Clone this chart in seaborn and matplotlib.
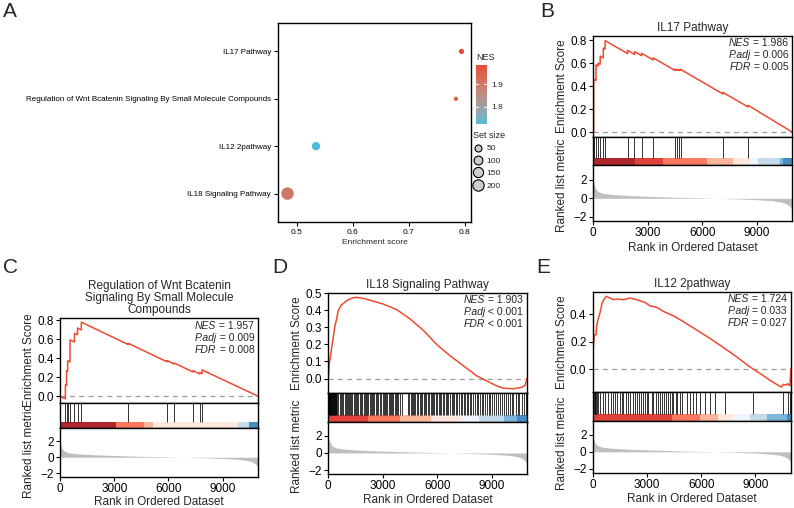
import numpy as np
import pandas as pd
import matplotlib
matplotlib.use("Agg")
import matplotlib.pyplot as plt
import seaborn as sns
from matplotlib.colors import ListedColormap, Normalize, to_rgb
from matplotlib.cm import ScalarMappable
from matplotlib.lines import Line2D
from matplotlib.ticker import FormatStrFormatter

# ------------------------------------------------------------------ data
pathways = ["IL17 Pathway",
            "Regulation of Wnt Bcatenin Signaling By Small Molecule Compounds",
            "IL12 2pathway",
            "IL18 Signaling Pathway"]
enrichment = [0.794, 0.784, 0.534, 0.483]
nes_values = [1.986, 1.957, 1.724, 1.903]
set_sizes = [16, 13, 62, 216]
size_breaks = [50, 100, 150, 200]
nes_breaks = [1.8, 1.9]
dot_x_ticks = [0.5, 0.6, 0.7, 0.8]

n_ranked = 10970
rank_ticks = [0, 3000, 6000, 9000]
metric_ticks = [-2, 0, 2]
metric_rank = [0, 40, 120, 250, 500, 1000, 2000, 3000, 4000, 5000, 6000, 7000,
               8000, 9000, 9800, 10300, 10600, 10800, 10900, 10970]
metric_value = [2.0, 1.6, 1.1, 0.75, 0.55, 0.42, 0.30, 0.22, 0.15, 0.09, 0.04, -0.01,
                -0.07, -0.15, -0.25, -0.38, -0.55, -0.80, -1.05, -1.35]
stat_names = ["NES", "P.adj", "FDR"]

# panel B : IL17 Pathway
b_title = "IL17 Pathway"
b_stats = ["= 1.986", "= 0.006", "= 0.005"]
b_es_rank = [0, 20, 20, 150, 150, 275, 275, 380, 380, 550, 550, 650, 650, 1890, 1890,
             2270, 2270, 2660, 2660, 3300, 3300, 4500, 4500, 4630, 4630, 4740, 4740,
             4810, 4810, 7140, 7140, 8530, 8530, 10970]
b_es_score = [0, 0, 0.46, 0.448, 0.585, 0.574, 0.60, 0.59, 0.66, 0.644, 0.73, 0.721,
              0.795, 0.682, 0.71, 0.675, 0.70, 0.664, 0.685, 0.627, 0.645, 0.536, 0.548,
              0.536, 0.545, 0.535, 0.542, 0.536, 0.545, 0.332, 0.345, 0.219, 0.233, 0.0]
b_hits = [20, 150, 275, 380, 550, 650, 1890, 2270, 2660, 3300, 4500, 4630, 4740, 4810,
          7140, 8530]
b_band_edges = [0, 2300, 3860, 6280, 7710, 8630, 9090, 10300, 10470, 10970]
b_band_colors = ["#A50F15", "#DE2D26", "#FB6A4A", "#FCAE91", "#FEE5D9", "#EFF3FF",
                 "#BDD7E7", "#6BAED6", "#3182BD"]
b_es_ticks = [0.0, 0.2, 0.4, 0.6, 0.8]

# panel C : Wnt
c_title = "Regulation of Wnt Bcatenin\nSignaling By Small Molecule\nCompounds"
c_stats = ["= 1.957", "= 0.009", "= 0.008"]
c_es_rank = [0, 300, 300, 360, 360, 424, 424, 553, 553, 800, 800, 970, 970, 1180, 1180,
             3782, 3782, 5903, 5903, 6309, 6309, 7360, 7360, 7730, 7730, 7860, 7860, 10970]
c_es_score = [0, -0.027, 0.12, 0.115, 0.27, 0.264, 0.375, 0.363, 0.595, 0.573, 0.665,
              0.65, 0.72, 0.70, 0.782, 0.545, 0.558, 0.365, 0.378, 0.341, 0.352, 0.256,
              0.27, 0.236, 0.252, 0.24, 0.278, 0.0]
c_hits = [300, 360, 424, 553, 800, 970, 1180, 3782, 5903, 6309, 7360, 7730, 7860]
c_band_edges = [0, 3100, 4650, 5120, 9870, 10450, 10970]
c_band_colors = ["#A50F15", "#FB6A4A", "#FCAE91", "#FEE5D9", "#BDD7E7", "#3182BD"]
c_es_ticks = [0.0, 0.2, 0.4, 0.6, 0.8]

# panel D : IL18
d_title = "IL18 Signaling Pathway"
d_stats = ["= 1.903", "< 0.001", "< 0.001"]
d_es_rank = [0, 60, 184, 300, 368, 460, 551, 700, 827, 1000, 1195, 1380, 1562, 1930,
             2297, 3032, 3768, 4503, 5238, 5973, 6709, 7444, 8179, 8730, 9282, 9650,
             10201, 10660, 10844, 10970]
d_es_score = [0, 0.09, 0.18, 0.26, 0.31, 0.35, 0.40, 0.43, 0.44, 0.456, 0.467, 0.474,
              0.477, 0.470, 0.460, 0.437, 0.405, 0.350, 0.283, 0.200, 0.134, 0.075,
              0.016, -0.014, -0.043, -0.057, -0.060, -0.052, -0.040, 0.006]
d_hits = [10, 30, 55, 70, 95, 120, 140, 165, 190, 210, 240, 265, 290, 320, 345, 370,
          400, 430, 455, 560, 640, 700, 760, 830, 900, 960, 1010, 1080, 1150, 1200,
          1250, 1330, 1400, 1470, 1530, 1600, 1660, 1740, 1800, 1870, 1950, 2010, 2080,
          2150, 2200, 2280, 2330, 2400, 2460, 2540, 2610, 2680, 2760, 2830, 2920, 3000,
          3050, 3120, 3180, 3260, 3330, 3380, 3440, 3520, 3580, 3650, 3720, 3780, 3850,
          3950, 4060, 4400, 4470, 4540, 4600, 4660, 4720, 4800, 4880, 4950, 5030, 5100,
          5180, 5260, 5330, 5400, 5480, 5560, 5640, 5700, 5780, 5850, 5930, 6000, 6080,
          6150, 6240, 6320, 6400, 6480, 6560, 6620, 6700, 6800, 6870, 6950, 7030, 7120,
          7200, 7300, 7380, 7460, 7560, 7640, 7720, 7800, 7880, 7980, 8080, 8180, 8260,
          8360, 8450, 8550, 8650, 8750, 8840, 8940, 9050, 9150, 9260, 9360, 9460, 9570,
          9680, 9780, 9880, 9990, 10100, 10200, 10320, 10430, 10540, 10660, 10780,
          10880, 10950]
d_band_edges = [0, 2206, 3952, 5650, 7300, 8300, 9700, 10400, 10970]
d_band_colors = ["#DE2D26", "#FB6A4A", "#FCAE91", "#FEE5D9", "#EFF3FF", "#BDD7E7",
                 "#6BAED6", "#3182BD"]
d_es_ticks = [0.0, 0.1, 0.2, 0.3, 0.4, 0.5]

# panel E : IL12
e_title = "IL12 2pathway"
e_stats = ["= 1.724", "= 0.033", "= 0.027"]
e_es_rank = [0, 37, 92, 184, 221, 313, 405, 498, 590, 737, 958, 1143, 1364, 1696, 2064,
             2433, 2894, 3170, 3539, 3907, 4460, 5013, 5750, 6488, 7225, 7962, 8699,
             9252, 9805, 10266, 10450, 10542, 10690, 10782, 10910, 10966]
e_es_score = [0, 0.16, 0.25, 0.25, 0.32, 0.37, 0.41, 0.47, 0.50, 0.53, 0.517, 0.505,
              0.51, 0.505, 0.517, 0.505, 0.485, 0.46, 0.45, 0.42, 0.388, 0.346, 0.285,
              0.224, 0.158, 0.09, 0.017, -0.03, -0.08, -0.117, -0.13, -0.11, -0.115,
              -0.105, -0.12, 0.005]
e_hits = [20, 60, 100, 140, 180, 220, 313, 405, 590, 682, 866, 995, 1143, 1235, 1327,
          1511, 1603, 1696, 1843, 1972, 2064, 2212, 2341, 2433, 2580, 2654, 2801, 2894,
          2986, 3078, 3262, 3354, 3502, 3631, 3723, 3815, 3944, 4055, 4184, 4276, 4368,
          4460, 4608, 4681, 4829, 4921, 5197, 5382, 5566, 5713, 5934, 6211, 6488, 6764,
          7317, 8883, 10505, 10818, 10910]
e_band_edges = [0, 4368, 5934, 6948, 7777, 8699, 9620, 10726, 10970]
e_band_colors = ["#DE2D26", "#FB6A4A", "#FCAE91", "#FEE5D9", "#EFF3FF", "#BDD7E7",
                 "#6BAED6", "#3182BD"]
e_es_ticks = [0.0, 0.2, 0.4]

# ------------------------------------------------------------------ style
sns.set_style("white")
plt.rcParams["font.family"] = ["Liberation Sans", "DejaVu Sans"]
plt.rcParams["axes.linewidth"] = 1.0

W, H = 794, 508
fig = plt.figure(figsize=(W / 100, H / 100), dpi=100)
fig.patch.set_facecolor("white")


def box(x0, y0, x1, y1):
    return [x0 / W, 1 - y1 / H, (x1 - x0) / W, (y1 - y0) / H]


RED = "#EE4A30"
TICK_FS = 8.5
LAB_FS = 8.5


def style_ticks(ax):
    ax.tick_params(direction="out", length=3, width=0.8, colors="black",
                   labelsize=TICK_FS, pad=1.5, left=True, bottom=True)
    for s in ax.spines.values():
        s.set_color("black")
        s.set_linewidth(1.0)


def gsea_panel(geom, title, es_rank, es_score, hits, band_edges, band_colors, stats,
               es_ticks, metric_lab_y, xlab_pad=2):
    x0, x1, y_top, y_es, y_band, y_bot = geom
    ax1 = fig.add_axes(box(x0, y_top, x1, y_es))
    sns.lineplot(x=es_rank, y=es_score, ax=ax1, color=RED, linewidth=1.1,
                 sort=False, estimator=None)
    ax1.axhline(0, color="#9b9b9b", lw=0.9, ls=(0, (4, 3.5)), zorder=0)
    ax1.set_xlim(0, n_ranked)
    ax1.set_xticks([])
    ax1.set_yticks(es_ticks)
    ax1.yaxis.set_major_formatter(FormatStrFormatter("%.1f"))
    ax1.set_xlabel("")
    ax1.set_ylabel("")
    style_ticks(ax1)
    ax1.tick_params(bottom=False)
    ax1.set_title(title, fontsize=LAB_FS, pad=3.5, linespacing=1.05)
    hgt = y_es - y_top
    for i, (nm, val) in enumerate(zip(stat_names, stats)):
        yy = 1 - (7.5 + 12 * i) / hgt
        t = ax1.text(1 - 4 / (x1 - x0), yy, " " + val, transform=ax1.transAxes,
                     ha="right", va="center", fontsize=7.5)
        ax1.annotate(nm, xy=(0, 0), xycoords=t, ha="right", va="bottom",
                     fontsize=7.5, fontstyle="italic")
    fig.text((x0 - 31) / W, 1 - ((y_top + y_es) / 2) / H, "Enrichment Score",
             rotation=90, ha="center", va="center", fontsize=LAB_FS)

    ax2 = fig.add_axes(box(x0, y_es, x1, y_band))
    ax2.set_xlim(0, n_ranked)
    ax2.set_ylim(0, 1)
    band_h = 0.23
    segs = [(band_edges[i], band_edges[i + 1] - band_edges[i])
            for i in range(len(band_edges) - 1)]
    ax2.broken_barh(segs, (0, band_h), facecolors=band_colors, alpha=0.9,
                    edgecolor="none")
    ax2.vlines(hits, band_h, 1, color="black", lw=0.7, alpha=0.8)
    ax2.set_xticks([])
    ax2.set_yticks([])
    style_ticks(ax2)
    ax2.tick_params(left=False, bottom=False)

    ax3 = fig.add_axes(box(x0, y_band, x1, y_bot))
    ax3.fill_between(metric_rank, metric_value, 0, color="#BFBFBF", lw=0)
    ax3.set_xlim(0, n_ranked)
    ax3.set_ylim(-2.44, 3.63)
    ax3.set_yticks(metric_ticks)
    ax3.set_xticks(rank_ticks)
    style_ticks(ax3)
    ax3.set_xlabel("Rank in Ordered Dataset", fontsize=LAB_FS, labelpad=xlab_pad)
    fig.text((x0 - 31) / W, 1 - metric_lab_y / H, "Ranked list metric",
             rotation=90, ha="center", va="center", fontsize=LAB_FS)
    return ax1


# ------------------------------------------------------------------ colormap (Lab interpolation)
_M = np.array([[0.4124, 0.3576, 0.1805], [0.2126, 0.7152, 0.0722],
               [0.0193, 0.1192, 0.9505]])
_WP = np.array([0.95047, 1.0, 1.08883])


def _to_lab(hexc):
    c = np.array(to_rgb(hexc))
    lin = np.where(c <= 0.04045, c / 12.92, ((c + 0.055) / 1.055) ** 2.4)
    xyz = _M @ lin / _WP
    d = 6 / 29
    f = np.where(xyz > d ** 3, np.cbrt(xyz), xyz / (3 * d * d) + 4 / 29)
    return np.array([116 * f[1] - 16, 500 * (f[0] - f[1]), 200 * (f[1] - f[2])])


def _from_lab(lab):
    L, a, b = lab
    fy = (L + 16) / 116
    f = np.array([fy + a / 500, fy, fy - b / 200])
    d = 6 / 29
    xyz = np.where(f > d, f ** 3, 3 * d * d * (f - 4 / 29)) * _WP
    lin = np.clip(np.linalg.inv(_M) @ xyz, 0, 1)
    c = np.where(lin <= 0.0031308, 12.92 * lin, 1.055 * lin ** (1 / 2.4) - 0.055)
    return np.clip(c, 0, 1)


lo, hi = _to_lab("#4DBBD5"), _to_lab("#E64B35")
nes_cmap = ListedColormap([_from_lab(lo + (hi - lo) * t) for t in np.linspace(0, 1, 256)])
nes_norm = Normalize(vmin=min(nes_values), vmax=max(nes_values))


def dot_px(n):
    lo_n, hi_n = min(set_sizes), max(set_sizes)
    return 4.3 + 8.2 * np.sqrt(np.clip((n - lo_n) / (hi_n - lo_n), 0, 1))


# ------------------------------------------------------------------ panel A
axA = fig.add_axes(box(278, 23, 471, 222))
dfA = pd.DataFrame({"pathway": pathways, "es": enrichment, "nes": nes_values,
                    "size": set_sizes})
size_map = {n: (dot_px(n) * 0.72) ** 2 for n in set_sizes}
sns.scatterplot(data=dfA, x="es", y="pathway", hue="nes", palette=nes_cmap,
                hue_norm=nes_norm, size="size", sizes=size_map, linewidth=0,
                legend=False, ax=axA)
axA.set_ylim(len(pathways) - 0.4, -0.6)
axA.set_xlim(0.466, 0.811)
axA.set_xticks(dot_x_ticks)
axA.set_xticklabels([f"{v:.1f}" for v in dot_x_ticks])
axA.set_ylabel("")
axA.set_xlabel("Enrichment score", fontsize=6, labelpad=2.5)
style_ticks(axA)
axA.tick_params(labelsize=6, length=3, pad=2)
axA.tick_params(axis="y", labelsize=5.8)

cax = fig.add_axes(box(476, 65, 486.7, 124))
cb = fig.colorbar(ScalarMappable(norm=nes_norm, cmap=nes_cmap), cax=cax)
cb.outline.set_visible(False)
cb.set_ticks(nes_breaks)
cax.tick_params(length=0, labelsize=6, pad=3)
for v in nes_breaks:
    cax.axhline(v, 0, 0.22, color="white", lw=0.8)
    cax.axhline(v, 0.78, 1, color="white", lw=0.8)
fig.text(476 / W, 1 - 57 / H, "NES", fontsize=6.5, va="center", ha="left")

handles = [Line2D([], [], marker="o", ls="", markersize=dot_px(b) * 0.72 - 0.6,
                  markerfacecolor="#CCCCCC", markeredgecolor="black",
                  markeredgewidth=0.8) for b in size_breaks]
leg = axA.legend(handles, [str(b) for b in size_breaks], title="Set size",
                 loc="upper left", bbox_to_anchor=(473 / W, 1 - 131 / H),
                 bbox_transform=fig.transFigure, frameon=False, fontsize=6,
                 title_fontsize=6.5, labelspacing=0.55, handletextpad=0.4,
                 borderpad=0, borderaxespad=0, handlelength=1.2)
leg._legend_box.align = "left"

# ------------------------------------------------------------------ GSEA panels
gsea_panel((593.3, 792.3, 36, 136.7, 165, 220.7), b_title, b_es_rank, b_es_score,
           b_hits, b_band_edges, b_band_colors, b_stats, b_es_ticks, 185)
gsea_panel((60, 258.3, 318.3, 402.7, 428.3, 476.7), c_title, c_es_rank, c_es_score,
           c_hits, c_band_edges, c_band_colors, c_stats, c_es_ticks, 451, xlab_pad=1)
gsea_panel((328.3, 527.3, 292.7, 393.3, 421.7, 474), d_title, d_es_rank, d_es_score,
           d_hits, d_band_edges, d_band_colors, d_stats, d_es_ticks, 446, xlab_pad=1.5)
gsea_panel((592.7, 791, 291.7, 391.7, 420.7, 472.7), e_title, e_es_rank, e_es_score,
           e_hits, e_band_edges, e_band_colors, e_stats, e_es_ticks, 443, xlab_pad=1.5)

# panel letters
for lab, (x, y) in {"A": (3, 2), "B": (540, 2), "C": (3, 258), "D": (272, 258),
                    "E": (536, 258)}.items():
    fig.text(x / W, 1 - y / H, lab, fontsize=15, ha="left", va="top")

fig.savefig("out.png", dpi=100, facecolor="white")
